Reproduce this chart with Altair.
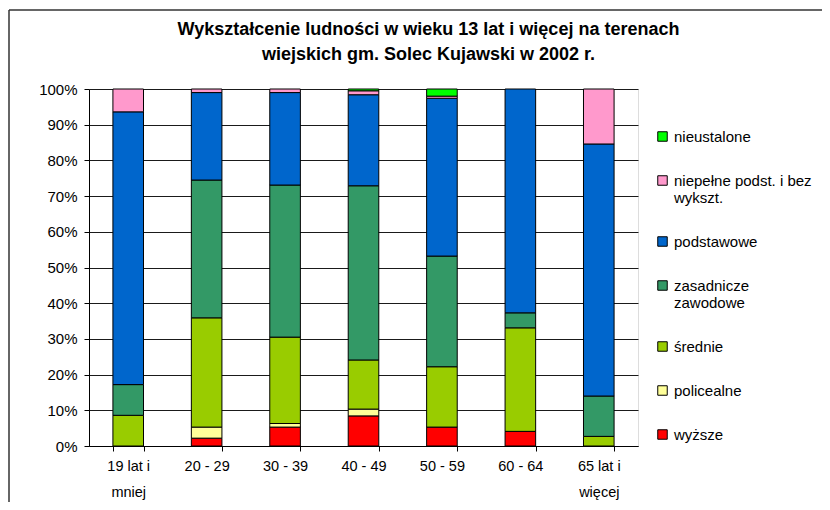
import altair as alt
import pandas as pd

categories = ["19 lat i|mniej", "20 - 29", "30 - 39", "40 - 49", "50 - 59", "60 - 64", "65 lat i|więcej"]
levels = ["wyższe", "policealne", "średnie", "zasadnicze|zawodowe", "podstawowe",
          "niepełne podst. i bez|wykszt.", "nieustalone"]
level_colors = ["#FF0000", "#FFFF99", "#99CC00", "#339966", "#0066CC", "#FF99CC", "#00FF00"]

wyzsze      = [0.0, 2.2, 5.3, 8.4, 5.3, 4.1, 0.0]
policealne  = [0.0, 3.1, 1.0, 1.9, 0.0, 0.0, 0.0]
srednie     = [8.6, 30.6, 24.2, 13.7, 16.9, 29.0, 2.7]
zasadnicze  = [8.6, 38.6, 42.6, 48.6, 31.0, 4.2, 11.3]
podstawowe  = [76.4, 24.5, 25.9, 25.4, 44.2, 62.7, 70.6]
niepelne    = [6.4, 1.0, 1.0, 1.1, 0.6, 0.0, 15.4]
nieustalone = [0.0, 0.0, 0.0, 0.5, 2.0, 0.0, 0.0]

series = [wyzsze, policealne, srednie, zasadnicze, podstawowe, niepelne, nieustalone]
rows = []
for li, (lev, vals) in enumerate(zip(levels, series)):
    for c, v in zip(categories, vals):
        if v > 0:
            rows.append({"grupa": c, "poziom": lev, "udzial": v, "kolejnosc": li})
df = pd.DataFrame(rows)

FONT = "Liberation Sans"
legend_domain = levels[::-1]
legend_range = level_colors[::-1]

bars = alt.Chart(df).mark_bar(stroke="black", strokeWidth=1).encode(
    x=alt.X("grupa:N", sort=categories,
            scale=alt.Scale(paddingInner=0.61, paddingOuter=0.305),
            axis=alt.Axis(title=None, labelAngle=0, tickBand="extent", tickSize=5,
                          labelExpr="split(datum.label, '|')", labelLineHeight=26,
                          labelPadding=8, labelFontSize=14.5, labelFont=FONT,
                          labelColor="black", domainColor="black", tickColor="black",
                          grid=False)),
    y=alt.Y("udzial:Q", stack="normalize",
            scale=alt.Scale(domain=[0, 1]),
            axis=alt.Axis(title=None, format=".0%", values=[i / 10 for i in range(11)],
                          tickSize=5, labelPadding=7, labelFontSize=15, labelFont=FONT,
                          labelColor="black", domainColor="black", tickColor="black",
                          gridColor="#1a1a1a", gridWidth=1, gridOpacity=1)),
    color=alt.Color("poziom:N",
                    scale=alt.Scale(domain=legend_domain, range=legend_range),
                    legend=alt.Legend(title=None, orient="none", legendX=566, legendY=40,
                                      symbolType="square", symbolSize=90,
                                      symbolStrokeColor="black", symbolStrokeWidth=1,
                                      labelFontSize=15, labelFont=FONT, labelColor="black",
                                      labelLimit=300, rowPadding=28,
                                      labelExpr="split(datum.label, '|')")),
    order=alt.Order("kolejnosc:Q", sort="ascending"),
)

frame_data = pd.DataFrame({"k": [0]})
frame_left = alt.Chart(frame_data).mark_rule(color="#333333", strokeWidth=1.5).encode(
    x=alt.value(-80), y=alt.value(-79), y2=alt.value(520))
frame_top = alt.Chart(frame_data).mark_rule(color="#333333", strokeWidth=1.5).encode(
    x=alt.value(-80), x2=alt.value(760), y=alt.value(-79))

chart = alt.layer(bars, frame_left, frame_top).properties(
    width=549, height=357,
    title=alt.TitleParams(
        text=["Wykształcenie ludności w wieku 13 lat i więcej na terenach",
              "wiejskich gm. Solec Kujawski w 2002 r."],
        font=FONT, fontSize=18, fontWeight="bold", color="black",
        anchor="middle", dx=65, dy=79, offset=24, lineHeight=25),
    autosize=alt.AutoSizeParams(type="none"),
    padding={"left": 81, "top": 81, "right": 184, "bottom": 56},
).configure_view(stroke="#808080", strokeWidth=1).configure(background="white")

chart.save("out.html", embed_options={"renderer": "svg", "actions": False})
